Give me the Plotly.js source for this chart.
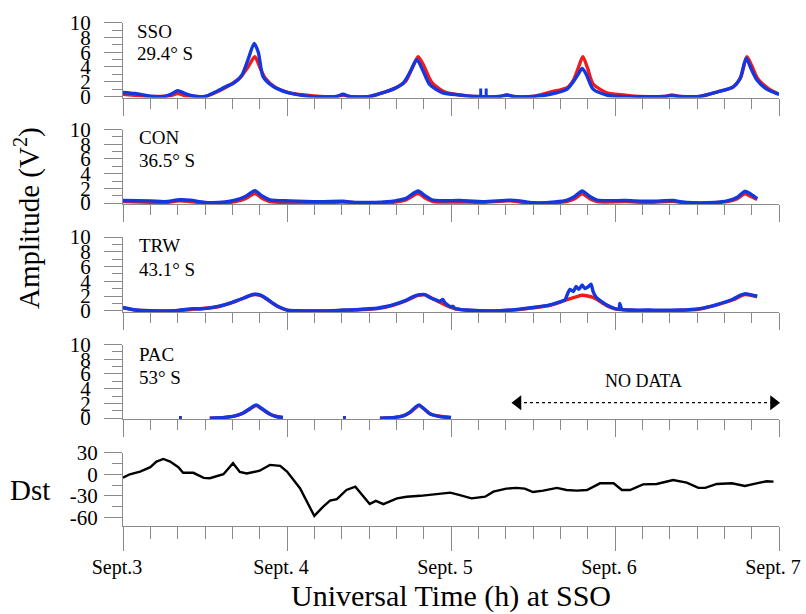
<!DOCTYPE html>
<html><head><meta charset="utf-8">
<script src="https://cdn.plot.ly/plotly-3.0.1.min.js"></script>
<style>html,body{margin:0;padding:0;background:#fff}#chart{width:806px;height:614px}</style>
</head><body><div id="chart"></div>
<script>
// ---- data (time in hours from Sept. 3, 00 UT) ----
const dayTicks = [0, 24, 48, 72, 96];
const dayLabels = ['Sept.3', 'Sept. 4', 'Sept. 5', 'Sept. 6', 'Sept. 7'];

const ssoBlueT = [0,1.8,4.0,6.1,7.2,8.0,9.1,10.5,12.0,13.5,15.2,16.2,17.4,18.3,19.2,19.8,20.5,22.0,24.0,25.9,27.4,31.3,32.2,33.1,36.1,38.3,39.5,41.0,42.0,43.0,43.9,44.9,46.8,49.3,51.5,55.2,56.2,57.1,60.0,62.5,65.0,65.9,66.6,67.2,67.8,68.8,70.8,72.7,79.3,80.3,81.5,84.4,86.9,89.3,90.3,91.2,91.9,92.8,94.2,96.0];
const ssoBlueV = [0.55,0.4,0.05,0,0.4,0.8,0.4,0.05,0,0.6,1.4,1.8,2.9,5.0,7.2,6.0,2.7,1.35,0.55,0.2,0,0,0.3,0,0,0.6,1.0,1.8,3.3,5.0,3.5,1.6,0.5,0.2,0,0,0.2,0,0,0.3,1.0,2.0,3.0,3.8,3.0,1.0,0.2,0,0,0.1,0,0,0.6,1.3,2.4,5.2,3.8,2.2,1.0,0.3];
const ssoSpikeT = [52.35,52.35,null,53.15,53.15];
const ssoSpikeV = [0,1.1,null,0,1.1];
const ssoRedT = [0,2.5,4.0,6.9,8.0,9.2,10.5,12.0,13.5,15.2,17.1,18.3,19.3,20.0,20.8,22.2,24.4,26.6,28.8,31.3,32.2,33.1,36.1,38.3,39.8,41.3,42.3,43.2,44.0,45.2,47.1,49.3,51.5,55.2,56.2,57.1,60.0,62.5,65.0,65.9,66.6,67.3,68.0,68.8,70.8,73.8,75.7,79.3,80.3,81.5,84.4,86.9,89.3,90.4,91.3,92.0,92.9,94.4,96.0];
const ssoRedV = [0.3,0.1,0,0.1,0.4,0.1,0,0,0.5,1.3,2.5,4.0,5.4,4.0,2.5,1.3,0.5,0.2,0,0,0.2,0,0,0.6,1.1,2.0,3.8,5.4,4.2,1.9,0.6,0.2,0,0,0.2,0,0,0.6,1.2,2.2,3.8,5.4,3.8,1.7,0.5,0.15,0,0,0.2,0,0,0.6,1.3,2.6,5.4,4.2,2.4,1.1,0.3];

const conT = [0,4.0,6.1,8.3,9.8,12.0,14.9,16.4,17.9,19.3,20.3,21.5,24.4,28.8,32.2,34.0,36.9,39.8,41.3,43.2,44.2,45.4,49.3,52.7,56.6,58.1,60.0,63.2,65.0,66.1,67.2,68.3,69.4,73.5,77.1,80.5,81.5,83.4,86.6,88.4,89.9,91.0,91.9,92.8];
const conBlueV = [0.35,0.3,0.2,0.45,0.4,0.1,0.15,0.4,0.9,1.7,1.0,0.45,0.3,0.2,0.25,0.1,0.1,0.3,0.6,1.65,1.0,0.4,0.35,0.2,0.4,0.3,0.05,0.15,0.4,0.9,1.65,0.9,0.4,0.35,0.25,0.35,0.2,0.05,0.1,0.3,0.8,1.6,1.2,0.6];
const conRedV = [0.2,0.1,0.05,0.3,0.2,0,0.05,0.2,0.6,1.3,0.7,0.2,0.1,0.05,0.15,0.05,0,0.15,0.4,1.3,0.7,0.2,0.15,0.1,0.3,0.15,0,0.05,0.25,0.6,1.25,0.6,0.2,0.2,0.1,0.25,0.1,0,0.05,0.2,0.6,1.25,0.9,0.5];

const trwBlueT = [0,1.8,4.0,7.6,9.1,10.2,11.3,12.7,13.9,15.2,16.4,17.6,18.6,19.3,20.2,21.1,21.8,22.5,23.3,24.0,25.9,30.3,32.2,34.0,35.4,37.2,38.3,39.5,40.5,41.6,42.4,43.2,44.2,44.9,45.7,46.4,46.8,47.1,47.9,48.3,48.6,49.3,50.3,52.2,55.2,57.7,60.0,62.5,63.9,64.7,65.1,65.4,65.9,66.3,66.7,67.2,67.6,68.0,68.5,68.8,69.2,70.1,70.8,71.6,72.0,72.6,72.7,73.0,74.6,77.1,81.5,84.4,86.9,89.3,90.3,91.0,91.8,92.8];
const trwBlueV = [0.45,0.1,0,0,0.2,0.3,0.25,0.4,0.6,0.9,1.3,1.7,2.1,2.25,2.1,1.6,1.1,0.7,0.35,0.1,0,0,0.1,0.15,0.25,0.35,0.55,0.8,1.1,1.5,1.9,2.15,2.2,1.8,1.5,1.3,1.55,1.1,0.55,0.6,0.3,0.2,0.1,0,0,0.2,0.45,0.8,1.2,1.5,2.4,2.9,2.6,3.3,2.9,3.5,3.0,3.2,3.6,2.6,1.9,1.2,0.8,0.45,0.3,0.2,1.0,0.2,0.1,0.1,0.1,0.3,0.85,1.6,2.1,2.3,2.2,2.0];
const trwRedT = [0,1.8,4.0,7.6,10.2,13.9,16.4,18.6,19.3,20.2,22.5,24.0,25.9,30.3,34.0,37.2,39.5,41.6,43.2,44.2,45.7,47.9,49.3,52.2,55.2,57.7,60.0,62.5,63.9,65.1,66.3,67.2,68.0,68.8,70.1,70.8,72.0,74.6,81.5,84.4,86.9,89.3,91.0,92.8];
const trwRedV = [0.4,0.1,0,0,0.2,0.55,1.25,2.05,2.2,2.05,0.65,0.1,0,0,0.1,0.3,0.75,1.45,2.1,2.15,1.45,0.5,0.15,0,0,0.15,0.4,0.75,1.15,1.55,1.9,2.1,2.0,1.8,1.1,0.7,0.25,0.05,0.05,0.25,0.8,1.5,2.2,1.9];

const pacT = [8.2,8.6,null,12.7,14.9,16.4,17.6,18.6,19.5,20.3,21.4,22.4,23.4,null,32.2,32.6,null,37.6,39.8,41.0,42.0,42.7,43.3,44.0,44.9,46.4,48.0];
const pacBlueV = [0.05,0.05,null,0,0.1,0.3,0.7,1.3,1.8,1.3,0.6,0.2,0.05,null,0.05,0.05,null,0,0.1,0.3,0.8,1.4,1.8,1.3,0.6,0.2,0.05];
const pacRedV = [0.05,0.05,null,0,0.1,0.3,0.7,1.25,1.7,1.25,0.6,0.25,0.1,null,0.05,0.05,null,0,0.1,0.3,0.75,1.3,1.7,1.3,0.6,0.25,0.1];
const noDataT = [57.8, 95.2];
const noDataV = [2.1, 2.1];

const dstT = [0,1.0,2.5,4.0,4.9,5.9,6.9,8.1,8.8,10.3,11.8,12.7,14.7,16.1,17.1,18.1,20.0,21.5,23.0,24.0,25.9,28.0,29.3,30.3,31.3,32.7,34.0,36.1,37.0,38.1,40.1,41.5,43.5,45.4,47.9,49.3,51.0,53.0,54.2,56.1,57.6,58.8,60.0,61.5,63.5,64.9,66.4,67.9,69.8,71.8,73.0,74.2,76.1,78.1,80.5,82.5,84.2,85.2,86.9,89.1,91.0,92.7,94.2,95.2];
const dstV = [-4.7,0,3.7,9.8,17.6,21.3,17.6,9.8,2,2,-5,-5.5,0,15.3,3.1,1,4.9,13,11.6,3.7,-19.5,-58,-45,-36.8,-34.5,-21.9,-17.3,-41.5,-37,-41.5,-33.6,-31.3,-30,-28,-25.6,-29,-33.5,-31.2,-24.2,-20,-19,-20,-24.7,-22.8,-19,-21.9,-22.8,-21.9,-12.6,-12.6,-21.9,-21.9,-14,-13.5,-8,-11.6,-19,-19,-13.5,-12.6,-16.3,-12.6,-9.8,-10.2];

// ---- styling ----
const RED = '#f21a1a', BLUE = '#1438e0', AX = '#8a8a8a';
const FONT = 'Liberation Serif, Times New Roman, serif';
const W = 806, H = 614, L = 123, R = 779;
const pyf = p => 1 - p / H;
const pxf = p => (p - L) / (R - L);

function ln(x, y, color, n, width, smooth) {
  const line = {color, width: width || 3.4};
  if (smooth) { line.shape = 'spline'; line.smoothing = smooth; }
  return {x, y, type: 'scatter', mode: 'lines', xaxis: 'x' + (n === 1 ? '' : n), yaxis: 'y' + (n === 1 ? '' : n),
    line, hoverinfo: 'skip', showlegend: false, connectgaps: false};
}

const S = 0.7;
const traces = [
  ln(ssoRedT, ssoRedV, RED, 1, 3.4, S), ln(ssoBlueT, ssoBlueV, BLUE, 1, 3.4, S), ln(ssoSpikeT, ssoSpikeV, BLUE, 1, 3),
  ln(conT, conRedV, RED, 2, 3.4, S), ln(conT, conBlueV, BLUE, 2, 3.4, S),
  ln(trwRedT, trwRedV, RED, 3, 3.4, S), ln(trwBlueT, trwBlueV, BLUE, 3, 3.4, 0.4),
  ln(pacT, pacRedV, RED, 4, 3.4, S), ln(pacT, pacBlueV, BLUE, 4, 3.4, S),
  {x: noDataT, y: noDataV, type: 'scatter', mode: 'lines+markers', xaxis: 'x4', yaxis: 'y4',
   line: {color: '#000', width: 1.2, dash: 'dot'},
   marker: {symbol: ['triangle-left', 'triangle-right'], size: 13, color: '#000'}, hoverinfo: 'skip', showlegend: false, cliponaxis: false},
  ln(dstT, dstV, '#000', 5, 2.4)
];

function xax(n, bottom) {
  return {
    anchor: 'y' + (n === 1 ? '' : n), domain: [0, 1], range: [0, 96],
    showline: true, linecolor: AX, linewidth: 1, showgrid: false, zeroline: false,
    tickmode: 'array', tickvals: dayTicks, ticktext: dayLabels,
    ticks: 'outside', ticklen: bottom ? 24 : 17, tickcolor: AX, tickwidth: 1,
    minor: {tickmode: 'linear', tick0: 0, dtick: 4, ticks: 'outside', ticklen: bottom ? 12 : 10, tickcolor: AX, tickwidth: 1},
    showticklabels: !!bottom, tickfont: {family: FONT, size: 20, color: '#000'},
    ticklabelstandoff: -1, ticklabelshift: -6, ticklabeloverflow: 'allow'
  };
}
function yamp(n, top, bot) {
  return {
    anchor: 'x' + (n === 1 ? '' : n), domain: [pyf(bot), pyf(top)], range: [-0.15, 10],
    showline: true, linecolor: AX, linewidth: 1, showgrid: false, zeroline: false,
    tickmode: 'linear', tick0: 0, dtick: 2, ticks: 'outside', ticklen: 18, tickcolor: AX,
    minor: {tickmode: 'linear', tick0: 0, dtick: 1, ticks: 'outside', ticklen: 10, tickcolor: AX},
    tickfont: {family: FONT, size: 21, color: '#000'}, ticklabelstandoff: 9
  };
}

const layout = {
  width: W, height: H, margin: {l: L, r: W - R, t: 0, b: 0},
  paper_bgcolor: '#fff', plot_bgcolor: 'rgba(0,0,0,0)', showlegend: false,
  font: {family: FONT, color: '#000'},
  xaxis: xax(1), xaxis2: xax(2), xaxis3: xax(3), xaxis4: xax(4), xaxis5: xax(5, true),
  yaxis: yamp(1, 22.7, 97.6), yaxis2: yamp(2, 129.5, 204.2), yaxis3: yamp(3, 237, 311.9), yaxis4: yamp(4, 344.5, 419.2),
  yaxis5: {
    anchor: 'x5', domain: [pyf(526), pyf(452.7)], range: [-72, 30],
    showline: true, linecolor: AX, linewidth: 1, showgrid: false, zeroline: false,
    tickmode: 'array', tickvals: [-60, -30, 0, 30], ticktext: ['-60', '-30', '0', '30'],
    ticks: 'outside', ticklen: 18, tickcolor: AX,
    minor: {tickmode: 'array', tickvals: [-45, -15, 15], ticks: 'outside', ticklen: 10, tickcolor: AX},
    tickfont: {family: FONT, size: 21, color: '#000'}, ticklabelstandoff: 2
  },
  annotations: []
};

function ann(text, x, y, size, opts) {
  layout.annotations.push(Object.assign({text, x: pxf(x), y: pyf(y), xref: 'paper', yref: 'paper',
    showarrow: false, xanchor: 'left', yanchor: 'middle', font: {family: FONT, size, color: '#000'}}, opts || {}));
}
ann('SSO', 135, 31.7, 19); ann('29.4° S', 135, 53.3, 19);
ann('CON', 137, 137.5, 19); ann('36.5° S', 137, 160, 19);
ann('TRW', 137, 245.7, 19); ann('43.1° S', 137, 269, 19);
ann('PAC', 137, 354, 19); ann('53° S', 137, 377, 19);
ann('NO DATA', 643, 381, 18, {xanchor: 'center'});
ann('Amplitude (V<sup>2</sup>)', 28, 218, 29, {xanchor: 'center', textangle: -90});
ann('Dst', 30, 490, 29, {xanchor: 'center'});
ann('Universal Time (h) at SSO', 451, 596, 30, {xanchor: 'center'});

Plotly.newPlot('chart', traces, layout, {staticPlot: true, displayModeBar: false});
</script></body></html>
